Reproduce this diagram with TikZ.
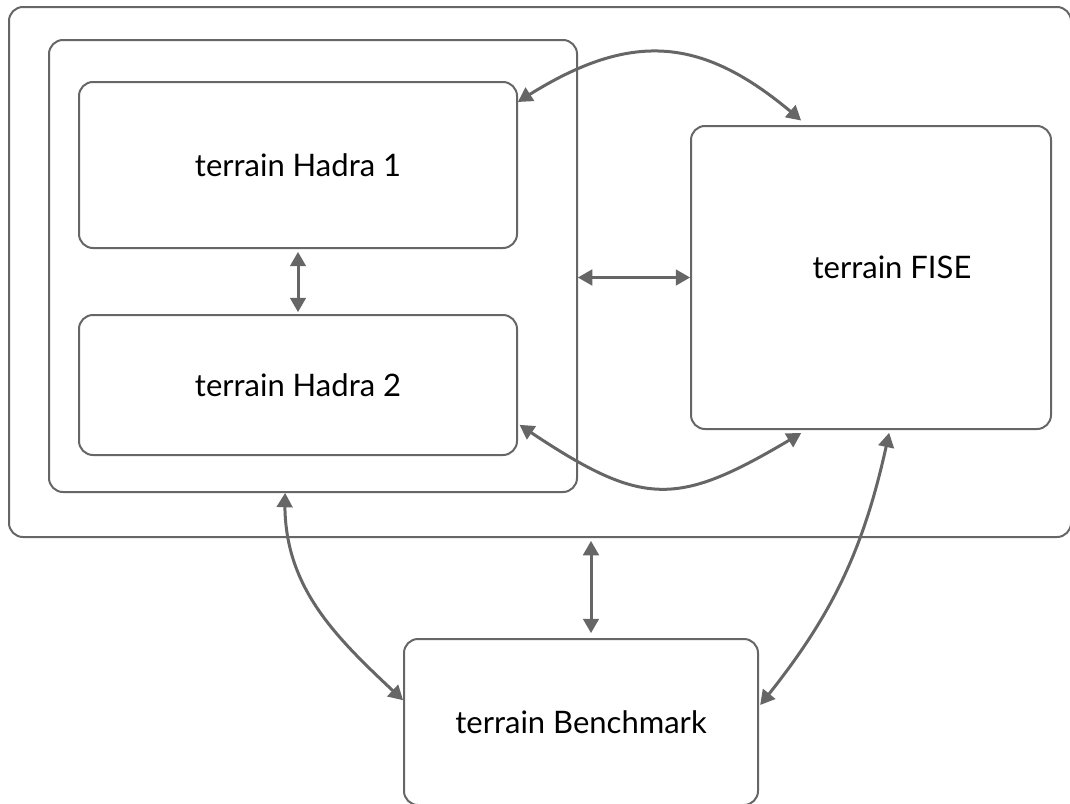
\documentclass[tikz,border=0pt]{standalone}
\usepackage{fontspec}
\setmainfont{Lato}
\usepackage{xcolor}
\usepackage{tikz}
\usetikzlibrary{arrows}
\definecolor{linegray}{HTML}{666666}

\begin{document}
\begin{tikzpicture}[x=1pt,y=1pt,
		box/.style={draw=linegray,line width=2pt,rounded corners=14pt,inner sep=0pt,font=\fontsize{31}{36}\selectfont},
		txt/.style={font=\fontsize{31}{36}\selectfont}]
		\useasboundingbox (0,0) rectangle (1070,-803);
		\node[box,minimum width=1062pt,minimum height=530pt] (T) at (540,-272) {};
		\node[box,minimum width=528pt,minimum height=452pt] (G) at (313,-266) {};
		\node[box,minimum width=438pt,minimum height=166pt] (H1) at (298,-165) {terrain Hadra 1};
		\node[box,minimum width=438pt,minimum height=140pt] (H2) at (298,-385) {terrain Hadra 2};
		\node[box,minimum width=360pt,minimum height=303pt,
			label={[txt,xshift=21pt,yshift=10pt]center:terrain FISE}] (F) at (871,-277.5) {};
		\node[box,minimum width=354pt,minimum height=166pt] (B) at (581,-722) {terrain Benchmark};
		%
		\path[<->,>=triangle 60,linegray,line width=3pt]
		% vertical arrows
		(H1) edge[shorten <=3pt,shorten >=2pt] (H2)
		([xshift=10pt]B.north |- T.south) edge[shorten <=3pt,shorten >=5pt] ([xshift=10pt]B.north)
		% horizontal arrows
		(G.east |- F.west) edge (F.west)
		% curved arrows
		(H1.16) edge[out=33,in=139,looseness=1.2,shorten >=7pt] (F.113)
		(H2.-10) edge[out=-34,in=-149,looseness=1.35,shorten <=2pt,shorten >=6pt] (F.-113)
		(F.-83) edge[out=-102,in=51,shorten <=3pt,shorten >=2pt] (B.5)
		(G.-97) edge[out=-92,in=137] (B.173);
\end{tikzpicture}
\end{document}
